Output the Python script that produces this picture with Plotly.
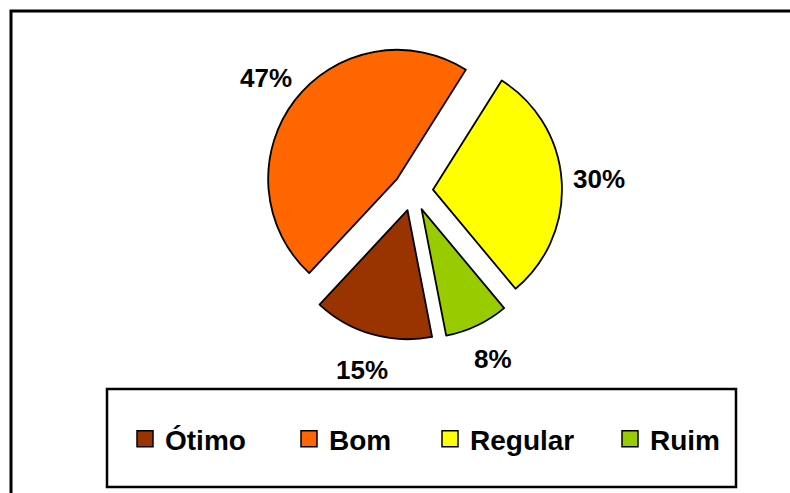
import numpy as np
import plotly.graph_objects as go

categories = ["Ótimo", "Bom", "Regular", "Ruim"]
values = [15, 47, 30, 8]
colors = ["#993300", "#FF6600", "#FFFF00", "#99CC00"]

W, H = 790, 493
cx, cy, half = 413, 191, 149
pull = 0.155
rotation = 169
label_dist = 186  # px from pie centre to label centre
FONT = "Liberation Sans, Arial"

fig = go.Figure()
fig.add_trace(go.Pie(
    labels=categories,
    values=values,
    sort=False,
    direction="clockwise",
    rotation=rotation,
    pull=[pull] * len(values),
    marker=dict(colors=colors, line=dict(color="black", width=1.8)),
    textinfo="none",
    showlegend=False,
    domain=dict(x=[(cx - half) / W, (cx + half) / W], y=[1 - (cy + half) / H, 1 - (cy - half) / H]),
    hoverinfo="label+percent",
))

# legend entries (square swatches)
legend_widths = [119, 96, 135, 80]
for cat, col, lw in zip(categories, colors, legend_widths):
    fig.add_trace(go.Scatter(
        x=[None], y=[None], mode="markers", name=cat,
        marker=dict(symbol="square", size=18, color=col, line=dict(color="black", width=1.5)),
        legendwidth=lw, showlegend=True,
    ))

# percentage labels placed radially at each slice's mid-angle
vals = np.array(values, dtype=float)
fracs = vals / vals.sum()
starts = rotation + 360 * np.concatenate([[0], np.cumsum(fracs)[:-1]])
mids = np.deg2rad(starts + 180 * fracs)
annotations = []
for f, a in zip(fracs, mids):
    px = cx + label_dist * np.sin(a)
    py = cy - label_dist * np.cos(a)
    annotations.append(dict(
        x=px / W, y=1 - py / H, xref="paper", yref="paper",
        text=f"{round(f * 100):.0f}%", showarrow=False,
        xanchor="center", yanchor="middle",
        font=dict(family=FONT, size=26, color="black", weight="bold"),
    ))

fig.update_layout(
    width=W, height=H,
    margin=dict(l=0, r=0, t=0, b=0),
    paper_bgcolor="white",
    plot_bgcolor="white",
    xaxis=dict(visible=False),
    yaxis=dict(visible=False),
    showlegend=True,
    legend=dict(
        orientation="h",
        x=125 / W, xanchor="left",
        y=1 - 439 / H, yanchor="middle",
        font=dict(family=FONT, size=28, color="black", weight="bold"),
        itemsizing="trace",
        bgcolor="rgba(0,0,0,0)",
    ),
    annotations=annotations,
    shapes=[
        dict(type="rect", xref="paper", yref="paper",
             x0=11 / W, x1=1.05, y0=-0.05, y1=1 - 11 / H,
             line=dict(color="black", width=3)),
        dict(type="rect", xref="paper", yref="paper",
             x0=107 / W, x1=736 / W, y0=1 - 487 / H, y1=1 - 389 / H,
             line=dict(color="black", width=2.5)),
    ],
)

fig.write_html("out.html")
